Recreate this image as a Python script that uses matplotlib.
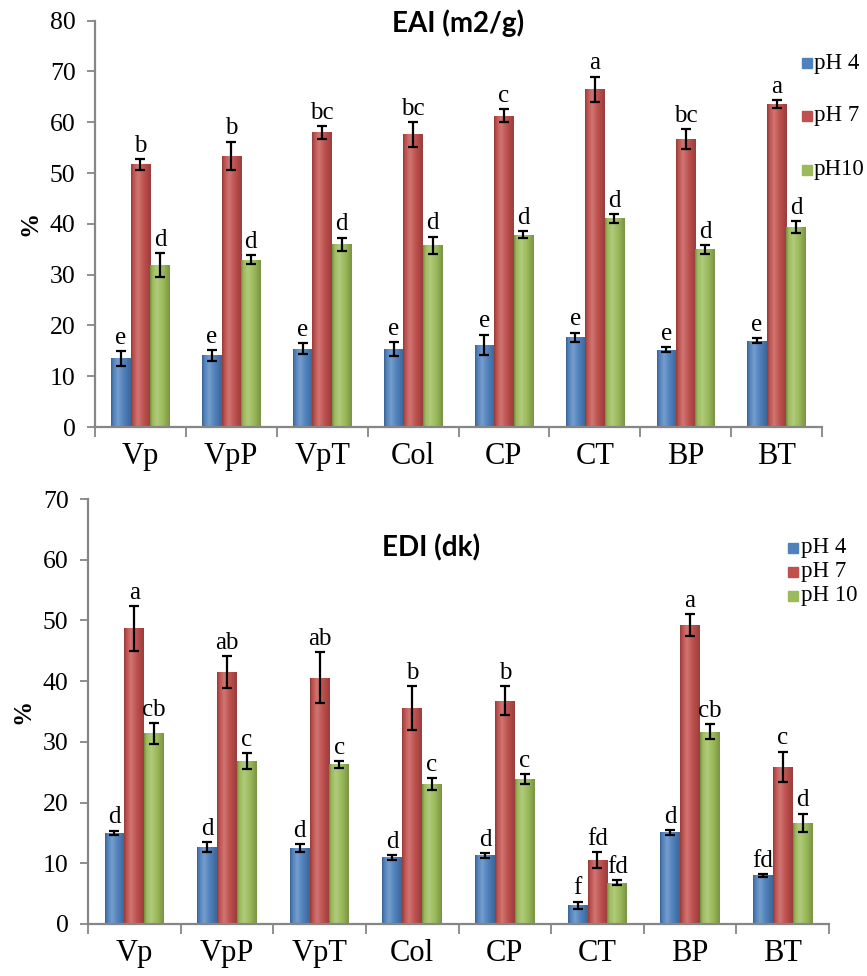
import numpy as np
import matplotlib
matplotlib.use("Agg")
import matplotlib.pyplot as plt
from matplotlib.colors import LinearSegmentedColormap, to_rgb
from matplotlib.lines import Line2D

categories = ["Vp", "VpP", "VpT", "Col", "CP", "CT", "BP", "BT"]
series = ["pH 4", "pH 7", "pH 10"]

# EAI (m2/g)
eai_ph4 = [13.5, 14.1, 15.4, 15.4, 16.2, 17.7, 15.2, 17.0]
eai_ph7 = [51.7, 53.4, 58.0, 57.6, 61.3, 66.5, 56.7, 63.6]
eai_ph10 = [31.9, 32.9, 36.0, 35.8, 37.9, 41.1, 35.0, 39.4]
eai_err4 = [1.5, 1.1, 1.1, 1.4, 2.0, 0.9, 0.5, 0.5]
eai_err7 = [1.0, 2.8, 1.2, 2.5, 1.3, 2.5, 2.0, 0.8]
eai_err10 = [2.4, 0.9, 1.3, 1.7, 0.7, 0.9, 0.9, 1.2]
eai_let4 = ["e"] * 8
eai_let7 = ["b", "b", "bc", "bc", "c", "a", "bc", "a"]
eai_let10 = ["d"] * 8

# EDI (dk)
edi_ph4 = [15.0, 12.7, 12.5, 11.0, 11.3, 3.1, 15.1, 8.0]
edi_ph7 = [48.7, 41.5, 40.6, 35.6, 36.8, 10.6, 49.2, 25.9]
edi_ph10 = [31.4, 26.8, 26.3, 23.0, 23.9, 6.8, 31.7, 16.7]
edi_err4 = [0.4, 0.8, 0.6, 0.4, 0.4, 0.6, 0.4, 0.2]
edi_err7 = [3.7, 2.6, 4.2, 3.6, 2.4, 1.3, 1.8, 2.5]
edi_err10 = [1.7, 1.3, 0.6, 1.0, 0.8, 0.4, 1.3, 1.5]
edi_let4 = ["d", "d", "d", "d", "d", "f", "d", "fd"]
edi_let7 = ["a", "ab", "ab", "b", "b", "fd", "a", "c"]
edi_let10 = ["cb", "c", "c", "c", "c", "fd", "cb", "d"]

colors = ["#4F81BD", "#C0504D", "#9BBB59"]
SERIF = ["Liberation Serif", "DejaVu Serif"]
plt.rcParams["font.family"] = SERIF

fig = plt.figure(figsize=(8.67, 9.76), dpi=100)


def grad_cmap(c):
    r = np.array(to_rgb(c))
    dark = r * 0.75
    light = r + (1 - r) * 0.22
    return LinearSegmentedColormap.from_list(
        "g", [(0, dark), (0.12, r), (0.35, light), (0.65, r), (1.0, dark * 1.05)])


def draw_panel(ax, vals, errs, lets, ymax, title, title_xy):
    n = len(categories)
    x = np.arange(n)
    w = 0.214
    for i, (v, e, l) in enumerate(zip(vals, errs, lets)):
        pos = x + (i - 1) * w
        bars = ax.bar(pos, v, width=w, color=colors[i], edgecolor="none", zorder=2)
        cmap = grad_cmap(colors[i])
        grad = np.linspace(0, 1, 64).reshape(1, -1)
        for b in bars:
            x0 = b.get_x()
            im = ax.imshow(grad, cmap=cmap, extent=(x0, x0 + b.get_width(), 0, b.get_height()),
                           aspect="auto", zorder=2.5, interpolation="bilinear")
            im.set_clip_path(b)
        ax.errorbar(pos, v, yerr=e, fmt="none", ecolor="black", elinewidth=1.6,
                    capsize=3.6, capthick=1.6, zorder=4)
        for p, vv, ee, ll in zip(pos, v, e, l):
            ax.annotate(ll, (p, vv + ee), xytext=(0, 1.5), textcoords="offset points",
                        ha="center", va="bottom", fontsize=18, zorder=5)
    ax.set_xlim(-0.5, n - 0.5)
    ax.set_ylim(0, ymax)
    ax.set_yticks(np.arange(0, ymax + 1, 10))
    ax.set_xticks(np.arange(-0.5, n, 1.0))
    ax.set_xticklabels([])
    ax.set_xticks(x, minor=True)
    ax.set_xticklabels(categories, minor=True, fontsize=22)
    ax.tick_params(axis="x", which="minor", length=0, pad=11)
    ax.tick_params(axis="x", which="major", length=7, width=1.3, color="#868686", direction="out")
    ax.tick_params(axis="y", length=6, width=1.3, color="#868686", labelsize=18.5, pad=8)
    for s in ["top", "right"]:
        ax.spines[s].set_visible(False)
    for s in ["left", "bottom"]:
        ax.spines[s].set_color("#868686")
        ax.spines[s].set_linewidth(1.6)
    ax.set_ylabel("%", fontsize=18, fontweight="bold", labelpad=6)
    fig.text(title_xy[0], title_xy[1], title, ha="center", va="center",
             fontsize=20, fontweight="bold", family=["Lato", "DejaVu Sans"])


ax1 = fig.add_axes([95 / 867, 1 - 427 / 976, (822 - 95) / 867, (427 - 20.7) / 976])
draw_panel(ax1, [eai_ph4, eai_ph7, eai_ph10], [eai_err4, eai_err7, eai_err10],
           [eai_let4, eai_let7, eai_let10], 80, "EAI (m2/g)", (458 / 867, 1 - 23 / 976))

ax2 = fig.add_axes([88 / 867, 1 - 924 / 976, (829 - 88) / 867, (924 - 499) / 976])
draw_panel(ax2, [edi_ph4, edi_ph7, edi_ph10], [edi_err4, edi_err7, edi_err10],
           [edi_let4, edi_let7, edi_let10], 70, "EDI (dk)", (431 / 867, 1 - 548 / 976))


def legend_at(labels, xs, ys, sq_x):
    for lab, c, y in zip(labels, colors, ys):
        fig.add_artist(Line2D([sq_x / 867], [1 - y / 976], marker="s", markersize=7,
                              color=c, markeredgecolor=c, linestyle="none",
                              transform=fig.transFigure))
        fig.text(xs / 867, 1 - y / 976, lab, ha="left", va="center", fontsize=16.5)


legend_at(["pH 4", "pH 7", "pH10"], 814, [63, 116, 170], 807)
legend_at(["pH 4", "pH 7", "pH 10"], 801, [548, 572, 596], 793)

fig.savefig("out.png", dpi=100)
